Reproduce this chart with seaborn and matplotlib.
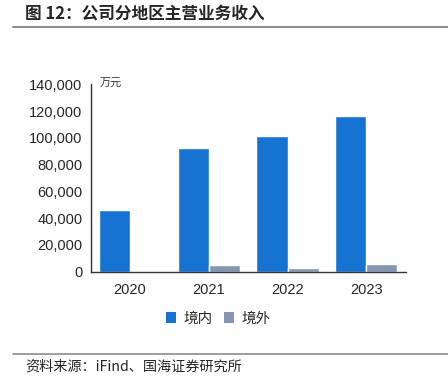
import matplotlib
matplotlib.use("Agg")
import matplotlib.pyplot as plt
import seaborn as sns
import pandas as pd
from matplotlib.patches import Patch
from matplotlib.lines import Line2D

years = ["2020", "2021", "2022", "2023"]
domestic = [46000, 92500, 101000, 116500]
overseas = [400, 4600, 2500, 5400]
series = ["境内", "境外"]
colors = ["#1773D2", "#8597B0"]
yticks = [0, 20000, 40000, 60000, 80000, 100000, 120000, 140000]

df = pd.DataFrame({
    "year": years * 2,
    "value": domestic + overseas,
    "region": [series[0]] * len(years) + [series[1]] * len(years),
})

sns.set_style("white")
plt.rcParams["font.family"] = ["Liberation Sans", "Noto Sans CJK SC", "DejaVu Sans"]

fig = plt.figure(figsize=(4.48, 3.77), dpi=100)
ax = fig.add_axes([0.2025, 0.2798, 0.7031, 0.4966])
sns.barplot(data=df, x="year", y="value", hue="region", palette=colors,
            width=0.79, saturation=1, ax=ax, legend=False)
ax.set_xlim(-0.5, 3.5)
ax.set_ylim(0, 140000)
ax.set_yticks(yticks)
ax.set_yticklabels([f"{v:,}" for v in yticks], fontsize=10.5)
ax.set_xlabel("")
ax.set_ylabel("")
ax.tick_params(axis="x", which="major", length=0, labelsize=10.5, pad=8)
ax.set_xticks([0.5, 1.5, 2.5, 3.5], minor=True)
ax.tick_params(axis="x", which="minor", direction="in", length=5, width=1, color="#333333")
ax.tick_params(axis="y", direction="in", length=4, width=1, color="#333333", pad=6)
for s in ["top", "right"]:
    ax.spines[s].set_visible(False)
for s in ["left", "bottom"]:
    ax.spines[s].set_color("#333333")
    ax.spines[s].set_linewidth(1)
ax.text(0.03, 1.0, "万元", transform=ax.transAxes, fontsize=8, va="center", ha="left",
        family=["Noto Sans CJK SC"], color="#333333", style="italic")

handles = [Patch(facecolor=c, edgecolor="none") for c in colors]
fig.legend(handles, series, loc="center", bbox_to_anchor=(0.487, 0.155), ncol=2,
           frameon=False, handlelength=0.7, handleheight=0.7, handletextpad=0.5,
           columnspacing=0.8, prop={"family": ["Noto Sans CJK SC"], "size": 10.5})

fig.text(25 / 448, 1 - 13 / 377, "图 12：公司分地区主营业务收入", fontsize=12, fontweight="bold",
         va="center", ha="left", family=["Noto Sans CJK SC"])
fig.add_artist(Line2D([13 / 448, 1.0], [1 - 26.5 / 377] * 2, color="#8c8c8c", lw=1.5))
fig.add_artist(Line2D([13 / 448, 1.0], [1 - 354.3 / 377] * 2, color="#8c8c8c", lw=1.2))
fig.text(25 / 448, 1 - 367 / 377, "资料来源：iFind、国海证券研究所", fontsize=10.2,
         va="center", ha="left", family=["Noto Sans CJK SC"])

fig.savefig("out.png", dpi=100)
